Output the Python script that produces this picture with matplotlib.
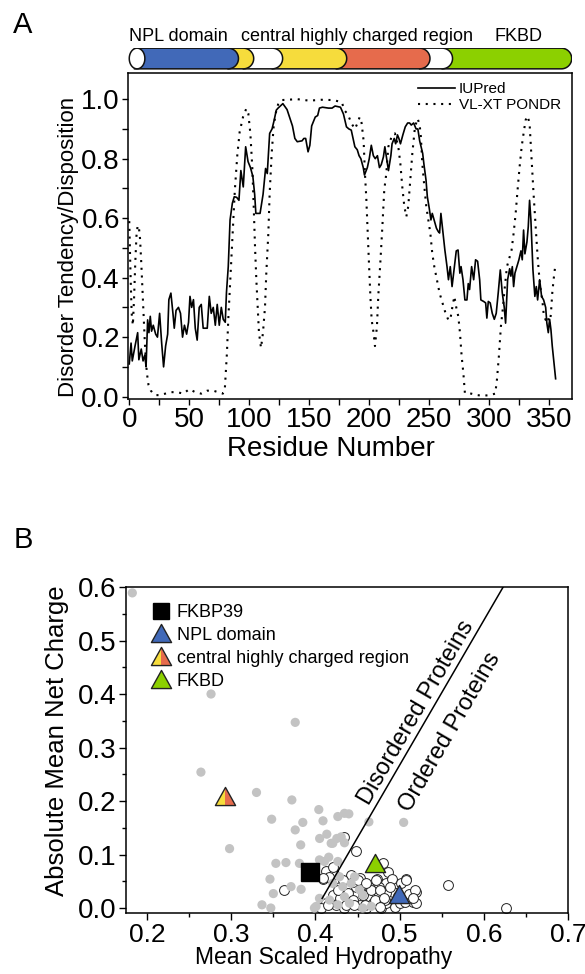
import numpy as np
import matplotlib
matplotlib.use('Agg')
import matplotlib.pyplot as plt
from matplotlib.patches import Polygon
from matplotlib.path import Path
from matplotlib.lines import Line2D
from matplotlib.legend_handler import HandlerTuple
from matplotlib.ticker import MultipleLocator

plt.rcParams['font.family'] = ['Liberation Sans', 'DejaVu Sans']

# ---------------- Panel A data ----------------
iupred_res = [0, 1.5, 2.5, 4.8, 7, 8, 10, 11.5, 13, 14, 15.3, 16.4, 17.5, 18.6, 20, 22, 23.5, 25.3, 27, 28.6,
              30.3, 32, 33, 34.7, 36.4, 37.5, 39, 41, 42.7, 44.4, 46, 47.8, 49.4, 50.6, 52, 53.5, 55, 56.6, 58.3, 60,
              61.6, 65, 66.7, 68.3, 70, 71.7, 73.3, 75, 76.7, 78.3, 80, 81, 82.5, 84, 85.9, 87.5, 89.5, 91.4, 93, 95,
              97, 99, 101, 103, 104.5, 105.5, 109, 111.5, 113.6, 115, 117, 119, 120.8, 122.5, 124, 128, 131.5, 134, 136, 138,
              140, 144, 145.5, 147, 149, 150.5, 152, 155, 157, 158.5, 161, 166, 169, 171.5, 176, 178.5, 181, 183, 185, 186.5,
              188, 190, 191.5, 193, 195, 196, 198.4, 200, 201.7, 203.4, 205, 206.8, 208.5, 210, 211.8, 213, 214.5, 216, 218, 219,
              220.8, 222, 223.5, 224.7, 226, 228, 230, 232, 233.6, 235, 237, 239, 240.5, 242, 244.5, 245.6, 247.3, 248.4, 250, 251.4,
              252.5, 254, 256, 257.5, 258.6, 259.7, 261.5, 263, 264.8, 266, 267.5, 269, 271, 272.5, 274, 275.5, 276.5, 278.1, 279.7, 281.4,
              282.5, 283.6, 285.3, 287, 288.6, 290.3, 292, 293, 295.3, 297, 298, 299.2, 300.8, 302.5, 304.2, 305.8, 307.5, 309.2, 310.8, 312.5,
              313.6, 315.3, 317, 318, 319.2, 320.3, 321.4, 323, 324.7, 326.4, 327.5, 328.6, 329.7, 331.4, 332.5, 333.6, 334.7, 336.4, 338, 339.2,
              340.3, 342, 343.6, 345.3, 347, 348, 349.2, 350.3, 351.4, 352.5, 355.3]
iupred_val = [0.11, 0.18, 0.12, 0.17, 0.215, 0.124, 0.16, 0.12, 0.14, 0.10, 0.258, 0.215, 0.27, 0.22, 0.24, 0.21, 0.20, 0.28, 0.18, 0.10,
              0.17, 0.21, 0.326, 0.348, 0.28, 0.23, 0.29, 0.30, 0.28, 0.20, 0.24, 0.21, 0.25, 0.337, 0.30, 0.326, 0.23, 0.19, 0.30, 0.31,
              0.23, 0.23, 0.337, 0.28, 0.30, 0.24, 0.31, 0.24, 0.30, 0.26, 0.25, 0.35, 0.437, 0.594, 0.65, 0.672, 0.67, 0.66, 0.76, 0.705,
              0.84, 0.79, 0.77, 0.74, 0.68, 0.616, 0.616, 0.68, 0.767, 0.75, 0.885, 0.90, 0.93, 0.963, 0.97, 0.985, 0.965, 0.935, 0.91, 0.868,
              0.857, 0.86, 0.868, 0.868, 0.823, 0.845, 0.91, 0.94, 0.945, 0.97, 0.973, 0.97, 0.97, 0.977, 0.973, 0.95, 0.907, 0.90, 0.896, 0.868,
              0.84, 0.83, 0.81, 0.80, 0.77, 0.745, 0.77, 0.80, 0.845, 0.81, 0.80, 0.81, 0.77, 0.78, 0.806, 0.84, 0.80, 0.76, 0.81, 0.85,
              0.868, 0.85, 0.88, 0.868, 0.85, 0.88, 0.907, 0.92, 0.92, 0.913, 0.92, 0.90, 0.90, 0.86, 0.818, 0.78, 0.728, 0.672, 0.633, 0.594,
              0.616, 0.594, 0.566, 0.555, 0.55, 0.616, 0.55, 0.493, 0.437, 0.393, 0.437, 0.37, 0.437, 0.49, 0.493, 0.415, 0.437, 0.393, 0.325, 0.325,
              0.38, 0.36, 0.437, 0.393, 0.46, 0.455, 0.393, 0.325, 0.32, 0.315, 0.264, 0.32, 0.315, 0.28, 0.26, 0.28, 0.35, 0.426, 0.35, 0.30,
              0.247, 0.393, 0.43, 0.405, 0.437, 0.37, 0.415, 0.437, 0.46, 0.49, 0.46, 0.56, 0.48, 0.52, 0.571, 0.66, 0.594, 0.426, 0.337, 0.37,
              0.325, 0.393, 0.337, 0.325, 0.30, 0.247, 0.215, 0.26, 0.225, 0.17, 0.06]

pondr_res = [0, 1, 2, 3, 4, 5, 6, 7, 8, 9, 10, 11, 12, 13, 14, 15, 16, 18, 20, 22, 25, 30, 35, 40, 45, 50, 55, 60, 65, 70, 78,
             79.7, 81.4, 82.5, 84.2, 85.9, 88, 90, 92, 94.8, 97.5, 99.2, 100.9, 102.5, 103.7, 104.8, 105.9, 107, 108.1, 109.8,
             111.4, 113.1, 114.2, 115.9, 117, 118.7, 120.3, 122, 124.2, 127, 140, 150, 160, 170, 177, 179.8, 182, 185.3, 188,
             190.3, 192, 193.6, 195.3, 196.4, 197.5, 198.6, 199.75, 200.9, 202, 203.6, 204.75, 206.4, 207.5, 209.2, 210.9, 212.5,
             214.2, 215.9, 218.6, 221.4, 224.2, 225.9, 227.5, 229.2, 230.9, 232.5, 234.2, 235.9, 238.1, 240.3, 242, 243, 244.2,
             245.9, 247.5, 249.2, 250.9, 252.5, 254.2, 256.4, 258.6, 260.3, 262, 263.6, 265.9, 267.5, 269.2, 270.9, 272.5, 274.2,
             275.6, 277, 278.4, 279.7, 285, 290, 295, 300, 305, 306.4, 308, 309.7, 311.4, 313, 314.75, 317, 318.6, 320.3, 322,
             323.6, 325.3, 327, 328.6, 330.3, 332, 333.6, 334.7, 335.8, 336.9, 338, 339.2, 340.3, 341.4, 342.5, 344.2, 345.3, 347,
             348.6, 350.3, 351.4, 352.5, 353.6, 355]
pondr_val = [0.59, 0.42, 0.28, 0.24, 0.33, 0.45, 0.54, 0.575, 0.57, 0.53, 0.45, 0.36, 0.27, 0.18, 0.11, 0.07, 0.04, 0.02, 0.01, 0.005,
             0.005, 0.01, 0.015, 0.015, 0.01, 0.025, 0.015, 0.01, 0.02, 0.02, 0.01,
             0.03, 0.147, 0.258, 0.393, 0.527, 0.695, 0.81, 0.89, 0.94, 0.968, 0.952, 0.885, 0.773, 0.64, 0.504, 0.393, 0.30, 0.214, 0.164,
             0.214, 0.30, 0.415, 0.549, 0.683, 0.818, 0.907, 0.952, 0.985, 0.997, 1.0, 0.995, 0.998, 0.997, 0.99, 0.96, 0.95, 0.918, 0.90,
             0.92, 0.94, 0.92, 0.86, 0.75, 0.67, 0.56, 0.449, 0.34, 0.258, 0.214, 0.17, 0.236, 0.337, 0.449, 0.57, 0.695,
             0.75, 0.84, 0.874, 0.885, 0.84, 0.784, 0.706, 0.64, 0.605, 0.64, 0.728, 0.818, 0.907, 0.935, 0.913, 0.874, 0.784,
             0.706, 0.64, 0.594, 0.549, 0.482, 0.437, 0.393, 0.348, 0.325, 0.303, 0.28, 0.258, 0.258, 0.30, 0.337, 0.30, 0.27,
             0.214, 0.135, 0.08, 0.012, 0.01, 0.005, 0.003, 0.005, 0.01, 0.057, 0.135, 0.236, 0.30, 0.37, 0.437, 0.47, 0.493, 0.549, 0.616,
             0.695, 0.773, 0.84, 0.885, 0.93, 0.943, 0.918, 0.84, 0.76, 0.683, 0.616, 0.538, 0.47, 0.415, 0.37, 0.325, 0.28, 0.258,
             0.27, 0.24, 0.28, 0.348, 0.393, 0.44]

domain_ends = [13, 91, 103.7, 127.8, 181.2, 250.6, 269.4, 368.7]
domain_colors = ['white', '#4169b8', '#f6dc3c', 'white', '#f6dc3c', '#e66b4c', 'white', '#8cd000']
domain_labels = ['NPL domain', 'central highly charged region', 'FKBD']
domain_label_x = [40.6, 190, 324]

# ---------------- Panel B data ----------------
ordered_h = [0.4127, 0.4095, 0.4226, 0.4425, 0.4524, 0.4635, 0.4734, 0.4841, 0.486, 0.480, 0.4913, 0.502, 0.507, 0.519, 0.516, 0.52,
             0.492, 0.484, 0.4742, 0.4643, 0.4563, 0.4484, 0.4385, 0.4286, 0.4206, 0.4127, 0.4068, 0.4246, 0.4345, 0.4444, 0.4524,
             0.4603, 0.4682, 0.4782, 0.4841, 0.494, 0.5, 0.506, 0.4722, 0.476, 0.4444, 0.4286, 0.4563, 0.4206, 0.4158, 0.4444, 0.483,
             0.4663, 0.488, 0.498, 0.5107, 0.4087, 0.4325, 0.4504, 0.4603, 0.4722, 0.4762, 0.508, 0.5179, 0.5159, 0.4266, 0.4702, 0.482,
             0.4147, 0.4365, 0.4464, 0.4583, 0.4762, 0.4484, 0.3631, 0.4345, 0.5575, 0.626]
ordered_r = [0.070, 0.054, 0.0636, 0.0617, 0.0555, 0.040, 0.0536, 0.046, 0.068, 0.0835, 0.0536, 0.047, 0.054, 0.030, 0.012, 0.009,
             0.0305, 0.0274, 0.0305, 0.021, 0.0243, 0.040, 0.0274, 0.040, 0.0243, 0.0087, 0.0, 0.0056, 0.0, 0.0087, 0.0056,
             0.0, 0.0087, 0.0, 0.0087, 0.0025, 0.0087, 0.012, 0.077, 0.040, 0.015, 0.018, 0.044, 0.077, 0.0585, 0.049, 0.015,
             0.033, 0.040, 0.0225, 0.0256, 0.0555, 0.052, 0.052, 0.046, 0.052, 0.0336, 0.052, 0.0336, 0.018, 0.0336, 0.015, 0.018,
             0.0056, 0.0056, 0.0056, 0.0056, 0.0025, 0.107, 0.0336, 0.133, 0.043, 0.0]

disordered_h = [0.1825, 0.276, 0.376, 0.264, 0.330, 0.372, 0.348, 0.298, 0.385, 0.376, 0.3825, 0.404, 0.409, 0.405, 0.4135,
                0.4206, 0.4266, 0.4345, 0.4397, 0.4254, 0.4345, 0.4635, 0.5048, 0.353, 0.365, 0.346, 0.350, 0.3365, 0.347,
                0.371, 0.383, 0.381, 0.4048, 0.4158, 0.4266, 0.4048, 0.3988, 0.4286, 0.4206, 0.4325, 0.4425, 0.4465, 0.4524,
                0.4563, 0.4345, 0.4167, 0.4008, 0.4266, 0.4405, 0.4563, 0.4663, 0.4306, 0.4107, 0.4187]
disordered_r = [0.589, 0.400, 0.347, 0.254, 0.216, 0.202, 0.166, 0.111, 0.160, 0.146, 0.118, 0.184, 0.163, 0.130, 0.138,
                0.121, 0.171, 0.177, 0.176, 0.130, 0.122, 0.161, 0.160, 0.0835, 0.085, 0.054, 0.027, 0.006, 0.0,
                0.040, 0.035, 0.0835, 0.090, 0.095, 0.087, 0.018, 0.0, 0.0585, 0.046, 0.040, 0.046, 0.0585, 0.034,
                0.024, 0.021, 0.015, 0.003, 0.006, 0.009, 0.0, 0.003, 0.133, 0.087, 0.121]

fkbp39_h, fkbp39_r = 0.393, 0.068
npl_h, npl_r = 0.499, 0.024
central_h, central_r = 0.292, 0.207
fkbd_h, fkbd_r = 0.471, 0.082
boundary_h = [0.408, 0.623]
boundary_r = [0.018, 0.6]

# ---------------- Figure ----------------
W, H = 585, 974
fig = plt.figure(figsize=(W / 100, H / 100), dpi=100)

def fa(l, t, r, b):
    return [l / W, 1 - b / H, (r - l) / W, (b - t) / H]

XMIN, XMAX = -0.8, 368.7
axA = fig.add_axes(fa(128.3, 73.3, 571.7, 399))
axA.plot(pondr_res, pondr_val, color='black', lw=1.5, linestyle=(0, (1, 2.7)), label='VL-XT PONDR')
axA.plot(iupred_res, iupred_val, color='black', lw=1.2, label='IUPred')
axA.set_xlim(XMIN, XMAX)
axA.set_ylim(-0.008, 1.087)
axA.xaxis.set_major_locator(MultipleLocator(50))
axA.xaxis.set_minor_locator(MultipleLocator(25))
axA.yaxis.set_major_locator(MultipleLocator(0.2))
axA.yaxis.set_minor_locator(MultipleLocator(0.1))
axA.set_xticks(range(0, 351, 50))
axA.tick_params(which='both', direction='out', length=4, width=1.0, labelsize=20, pad=2)
for s in axA.spines.values():
    s.set_linewidth(1.1)
axA.set_xlabel('Residue Number', fontsize=20)
axA.xaxis.set_label_coords(0.457, -0.114)
axA.xaxis.label.set_va('top')
axA.set_ylabel('Disorder Tendency/Disposition', fontsize=16)
axA.yaxis.set_label_coords(-0.111, 0.467)
h, l = axA.get_legend_handles_labels()
axA.legend([h[1], h[0]], [l[1], l[0]], loc='upper left', bbox_to_anchor=(0.653, 0.972), frameon=False,
           fontsize=11, handlelength=2.4, handletextpad=0.3, labelspacing=0.1, borderpad=0, borderaxespad=0)

# domain bar
axBar = fig.add_axes(fa(128.3, 47.5, 571.7, 69.5))
axBar.set_xlim(XMIN, XMAX)
axBar.set_ylim(0, 1)
axBar.axis('off')
y0, y1 = 0.03, 0.97
px_per_res = (571.7 - 128.3) / (XMAX - XMIN)
ry_px = (y1 - y0) * 22 / 2
rx = ry_px / px_per_res

def capsule(x0, x1, rxx, round_left):
    yc, ry = (y0 + y1) / 2, (y1 - y0) / 2
    th = np.linspace(np.pi / 2, -np.pi / 2, 40)
    right = np.column_stack([x1 - rxx + rxx * np.cos(th), yc + ry * np.sin(th)])
    if round_left:
        th2 = np.linspace(-np.pi / 2, -3 * np.pi / 2, 40)
        left = np.column_stack([x0 + rxx + rxx * np.cos(th2), yc + ry * np.sin(th2)])
    else:
        left = np.array([[x0, y0], [x0, y1]])
    return np.vstack([right, left])

starts = [0] + [e - rx for e in domain_ends[:-1]]
for i in range(len(domain_ends) - 1, -1, -1):
    x0, x1 = starts[i], domain_ends[i]
    if i == 0:
        rr = min(rx, (x1 - x0) / 2)
        verts = capsule(x0, x1, rr, True)
    else:
        verts = capsule(x0, x1, rx, False)
    axBar.add_patch(Polygon(verts, closed=True, facecolor=domain_colors[i], edgecolor='#111111', lw=1.1))
for lab, xx in zip(domain_labels, domain_label_x):
    axBar.text(xx, 1.28, lab, ha='center', va='baseline', fontsize=13, clip_on=False)

# ---------------- Panel B ----------------
axB = fig.add_axes(fa(126, 587, 568, 913))
axB.scatter(ordered_h, ordered_r, s=50, facecolor='white', edgecolor='#222222', linewidths=0.7, zorder=2)
axB.scatter(disordered_h, disordered_r, s=44, facecolor='#c3c3c3', edgecolor='none', zorder=3)
axB.plot(boundary_h, boundary_r, color='black', lw=1.1, zorder=4)

tri = Path([(0, 1), (-1, -0.8), (1, -0.8), (0, 1)], [Path.MOVETO, Path.LINETO, Path.LINETO, Path.CLOSEPOLY])
tri_l = Path([(0, 1), (-1, -0.8), (0, -0.8), (0, 1)], [Path.MOVETO, Path.LINETO, Path.LINETO, Path.CLOSEPOLY])
tri_r = Path([(0, 1), (0, -0.8), (1, -0.8), (0, 1)], [Path.MOVETO, Path.LINETO, Path.LINETO, Path.CLOSEPOLY])
TMS = 14.5
axB.plot([fkbp39_h], [fkbp39_r], marker='s', ms=12.5, color='black', ls='none', zorder=5)
axB.plot([npl_h], [npl_r], marker=tri, ms=TMS, mfc='#4169b8', mec='#222222', mew=1.0, ls='none', zorder=5)
axB.plot([fkbd_h], [fkbd_r], marker=tri, ms=TMS, mfc='#8cd000', mec='#222222', mew=1.0, ls='none', zorder=5)
axB.plot([central_h], [central_r], marker=tri_l, ms=TMS, mfc='#f6dc3c', mew=0, ls='none', zorder=5)
axB.plot([central_h], [central_r], marker=tri_r, ms=TMS, mfc='#e66b4c', mew=0, ls='none', zorder=5)
axB.plot([central_h], [central_r], marker=tri, ms=TMS, mfc='none', mec='#222222', mew=1.0, ls='none', zorder=6)

axB.set_xlim(0.175, 0.7)
axB.set_ylim(-0.0093, 0.6)
axB.xaxis.set_minor_locator(MultipleLocator(0.05))
axB.yaxis.set_minor_locator(MultipleLocator(0.05))
axB.set_xticks([0.2, 0.3, 0.4, 0.5, 0.6, 0.7])
axB.set_xticklabels(['0.2', '0.3', '0.4', '0.5', '0.6', '0.7'])
axB.set_yticks([0.0, 0.1, 0.2, 0.3, 0.4, 0.5, 0.6])
axB.set_yticklabels(['0.0', '0.1', '0.2', '0.3', '0.4', '0.5', '0.6'])
axB.tick_params(which='major', direction='out', length=5, width=1.0, labelsize=20, pad=2)
axB.tick_params(axis='x', which='major', labelsize=19)
axB.tick_params(which='minor', direction='out', length=3, width=1.0)
for s in axB.spines.values():
    s.set_linewidth(1.1)
axB.set_xlabel('Mean Scaled Hydropathy', fontsize=16.5)
axB.xaxis.set_label_coords(0.446, -0.102)
axB.xaxis.label.set_va('top')
axB.set_ylabel('Absolute Mean Net Charge', fontsize=18.5)
axB.yaxis.set_label_coords(-0.13, 0.528)

ang = np.degrees(np.arctan2(535 * (boundary_r[1] - boundary_r[0]), 842 * (boundary_h[1] - boundary_h[0])))
axB.text(0.5196, 0.365, 'Disordered Proteins', rotation=ang, rotation_mode='anchor', ha='center', va='center', fontsize=17)
axB.text(0.5595, 0.328, 'Ordered Proteins', rotation=ang, rotation_mode='anchor', ha='center', va='center', fontsize=17)

hs = [Line2D([], [], marker='s', ms=11.5, color='black', ls='none'),
      Line2D([], [], marker=tri, ms=TMS, mfc='#4169b8', mec='#222222', mew=1.0, ls='none'),
      (Line2D([], [], marker=tri_l, ms=TMS, mfc='#f6dc3c', mew=0, ls='none'),
       Line2D([], [], marker=tri_r, ms=TMS, mfc='#e66b4c', mew=0, ls='none'),
       Line2D([], [], marker=tri, ms=TMS, mfc='none', mec='#222222', mew=1.0, ls='none')),
      Line2D([], [], marker=tri, ms=TMS, mfc='#8cd000', mec='#222222', mew=1.0, ls='none')]
axB.legend(hs, ['FKBP39', 'NPL domain', 'central highly charged region', 'FKBD'], loc='upper left',
           bbox_to_anchor=(0.054, 0.948), frameon=False, fontsize=13, handlelength=1.2, handletextpad=0.3,
           labelspacing=0.33, borderpad=0, borderaxespad=0, handler_map={tuple: HandlerTuple(ndivide=1)})

fig.text(23 / W, 1 - 25 / H, 'A', fontsize=21, ha='center', va='center')
fig.text(23 / W, 1 - 540 / H, 'B', fontsize=21, ha='center', va='center')

fig.savefig('out.png', dpi=100)
